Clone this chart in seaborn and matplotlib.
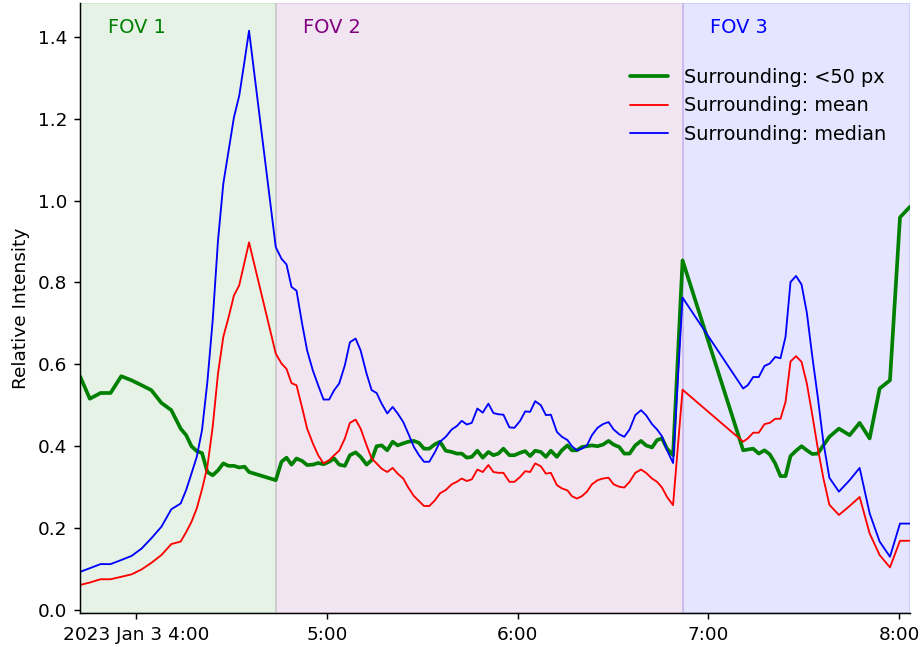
import matplotlib
matplotlib.use("Agg")
import matplotlib.pyplot as plt
import matplotlib.dates as mdates
import matplotlib.transforms as mtransforms
import numpy as np
import pandas as pd
import seaborn as sns

# ---------------- data ----------------
# minutes after 2023-01-03 04:00
minutes = [
    -17.71, -14.62, -11.25, -8.10, -4.73, -1.48, 1.67, 4.73, 7.88, 11.03, 13.96, 15.69,
    17.36, 19.03, 20.70, 22.37, 24.04, 25.71, 27.38, 29.05, 30.72, 32.39, 34.07, 35.48,
    43.90, 45.69, 47.27, 48.85, 50.42, 52.19, 53.76, 55.56, 57.23, 58.93, 60.69, 62.27,
    63.84, 65.64, 67.22, 69.01, 70.59, 72.48, 74.06, 75.63, 77.21, 78.97, 80.67, 82.25,
    84.01, 85.59, 87.38, 88.96, 90.54, 92.21, 94.00, 95.58, 97.38, 99.27, 100.84, 102.42,
    103.99, 105.57, 107.33, 109.03, 110.80, 112.38, 113.95, 115.53, 117.42, 118.99, 120.79, 122.37,
    123.94, 125.52, 127.31, 128.89, 130.46, 132.35, 133.93, 135.69, 137.08, 138.66, 140.23, 141.81,
    143.38, 145.15, 146.85, 148.61, 150.19, 151.99, 153.56, 155.23, 157.03, 158.83, 160.40, 162.29,
    163.87, 165.44, 167.02, 168.91,
    171.90, 190.97, 192.42, 194.12, 195.88, 197.68, 199.35, 201.05, 202.72, 204.30, 205.87, 207.61,
    209.34, 211.01, 212.71, 214.45, 216.21, 218.10, 221.10, 224.47, 227.62, 230.77, 233.92, 237.17,
    240.32, 243.47,
]

surround_50px = [
    0.571, 0.516, 0.530, 0.530, 0.571, 0.561, 0.549, 0.537, 0.506, 0.488, 0.443, 0.427,
    0.400, 0.388, 0.383, 0.337, 0.329, 0.341, 0.358, 0.352, 0.352, 0.348, 0.350, 0.337,
    0.317, 0.362, 0.372, 0.355, 0.370, 0.364, 0.354, 0.355, 0.359, 0.356, 0.362, 0.370,
    0.355, 0.352, 0.378, 0.385, 0.374, 0.355, 0.366, 0.400, 0.402, 0.390, 0.411, 0.402,
    0.407, 0.411, 0.413, 0.408, 0.394, 0.394, 0.405, 0.411, 0.389, 0.386, 0.382, 0.382,
    0.372, 0.374, 0.389, 0.372,
    0.386, 0.378, 0.382, 0.394, 0.378, 0.378, 0.384, 0.388, 0.376, 0.389, 0.386, 0.374,
    0.389, 0.374, 0.390, 0.402, 0.390, 0.390, 0.398, 0.400, 0.402, 0.400, 0.404, 0.413,
    0.404, 0.398, 0.382, 0.382, 0.402, 0.413, 0.402, 0.397, 0.415, 0.419, 0.394, 0.378,
    0.854, 0.390, 0.392, 0.394, 0.382, 0.390, 0.380, 0.358, 0.327, 0.327, 0.376, 0.389,
    0.400, 0.390, 0.381, 0.382, 0.402, 0.423, 0.443, 0.427, 0.457, 0.419, 0.541, 0.561,
    0.959, 0.985,
]

surround_mean = [
    0.061, 0.067, 0.075, 0.075, 0.081, 0.087, 0.099, 0.115, 0.134, 0.161, 0.167, 0.190,
    0.215, 0.248, 0.295, 0.350, 0.447, 0.577, 0.667, 0.715, 0.768, 0.793, 0.850, 0.898,
    0.626, 0.602, 0.589, 0.554, 0.549, 0.494, 0.443, 0.407, 0.378, 0.358, 0.366, 0.378,
    0.389, 0.419, 0.457, 0.465, 0.443, 0.402, 0.370, 0.358, 0.345, 0.337, 0.347, 0.333,
    0.321, 0.299, 0.278, 0.266, 0.254, 0.254, 0.268, 0.285, 0.293, 0.307, 0.313, 0.321,
    0.315, 0.319, 0.343, 0.337,
    0.354, 0.337, 0.335, 0.335, 0.313, 0.313, 0.325, 0.339, 0.337, 0.358, 0.351, 0.333,
    0.335, 0.305, 0.297, 0.292, 0.278, 0.272, 0.278, 0.289, 0.307, 0.317, 0.321, 0.323,
    0.307, 0.301, 0.299, 0.313, 0.335, 0.343, 0.335, 0.321, 0.313, 0.299, 0.276, 0.256,
    0.538, 0.411, 0.419, 0.433, 0.433, 0.454, 0.457, 0.467, 0.467, 0.508, 0.607, 0.620,
    0.606, 0.553, 0.477, 0.395, 0.322, 0.257, 0.232, 0.254, 0.276, 0.187, 0.134, 0.104,
    0.169, 0.169,
]

surround_median = [
    0.093, 0.102, 0.112, 0.112, 0.122, 0.132, 0.150, 0.175, 0.203, 0.246, 0.260, 0.293,
    0.333, 0.374, 0.440, 0.557, 0.707, 0.902, 1.041, 1.122, 1.203, 1.256, 1.341, 1.415,
    0.886, 0.858, 0.844, 0.789, 0.780, 0.699, 0.634, 0.585, 0.549, 0.514, 0.514, 0.537,
    0.553, 0.598, 0.654, 0.663, 0.634, 0.577, 0.537, 0.530, 0.504, 0.480, 0.496, 0.480,
    0.459, 0.431, 0.398, 0.378, 0.362, 0.362, 0.386, 0.411, 0.423, 0.441, 0.449, 0.462,
    0.453, 0.457, 0.492, 0.482,
    0.504, 0.481, 0.478, 0.477, 0.446, 0.445, 0.462, 0.485, 0.484, 0.510, 0.500, 0.476,
    0.477, 0.435, 0.423, 0.415, 0.400, 0.390, 0.394, 0.402, 0.427, 0.445, 0.454, 0.459,
    0.441, 0.429, 0.423, 0.441, 0.476, 0.488, 0.476, 0.454, 0.441, 0.424, 0.390, 0.359,
    0.763, 0.541, 0.549, 0.569, 0.569, 0.596, 0.602, 0.618, 0.615, 0.667, 0.801, 0.816,
    0.795, 0.726, 0.620, 0.520, 0.410, 0.323, 0.289, 0.317, 0.347, 0.236, 0.167, 0.130,
    0.211, 0.211,
]

series_labels = ["Surrounding: <50 px", "Surrounding: mean", "Surrounding: median"]
series_colors = ["green", "red", "blue"]

fov_names = ["FOV 1", "FOV 2", "FOV 3"]
fov_colors = ["green", "purple", "blue"]
fov_start_minutes = [-17.71, 43.90, 171.90]

tick_times = ["2023-01-03 04:00", "2023-01-03 05:00", "2023-01-03 06:00",
              "2023-01-03 07:00", "2023-01-03 08:00"]
tick_labels = ["2023 Jan 3 4:00", "5:00", "6:00", "7:00", "8:00"]

# ---------------- style ----------------
sns.set_style("ticks", rc={
    "axes.edgecolor": "black", "xtick.color": "black", "ytick.color": "black",
    "text.color": "black", "axes.labelcolor": "black",
})
plt.rcParams["font.family"] = ["DejaVu Sans"]
plt.rcParams["font.size"] = 10

DPI = 133
t0 = pd.Timestamp("2023-01-03 04:00")
times = t0 + pd.to_timedelta(minutes, unit="min")
df = pd.DataFrame({
    "time": times,
    "s50": surround_50px,
    "mean": surround_mean,
    "median": surround_median,
})

fig = plt.figure(figsize=(922 / DPI + 1e-6, 647 / DPI + 1e-6), dpi=DPI)
ax = fig.add_axes([80 / 922, 1 - 612.7 / 647, 830 / 922, 609.7 / 647])

# FOV shaded regions
fov_starts = [t0 + pd.to_timedelta(m, unit="min") for m in fov_start_minutes]
fov_ends = fov_starts[1:] + [times[-1]]
trans = mtransforms.blended_transform_factory(ax.transData, ax.transAxes)
for name, col, s, e in zip(fov_names, fov_colors, fov_starts, fov_ends):
    ax.axvspan(s, e, color=col, alpha=0.1)

# lines
for col_key, lab, col, lw in zip(["s50", "mean", "median"], series_labels,
                                 series_colors, [2.0, 1.0, 1.0]):
    sns.lineplot(data=df, x="time", y=col_key, color=col, lw=lw, label=lab, ax=ax)

for name, col, s in zip(fov_names, fov_colors, fov_starts):
    ax.annotate(name, xy=(mdates.date2num(s), 0.96), xycoords=trans,
                xytext=(15, 0), textcoords="offset points",
                color=col, fontsize=10.5, ha="left", va="center")

ax.set_xlim(times[0], times[-1])
ax.set_xticks(pd.to_datetime(tick_times))
ax.set_xticklabels(tick_labels)
ax.set_xlabel("")
ax.set_ylabel("Relative Intensity")
sns.despine(ax=ax)

ax.legend(loc="upper right", bbox_to_anchor=(0.992, 0.922), frameon=False,
          fontsize=10.4)

fig.savefig("out.png", dpi=DPI)
